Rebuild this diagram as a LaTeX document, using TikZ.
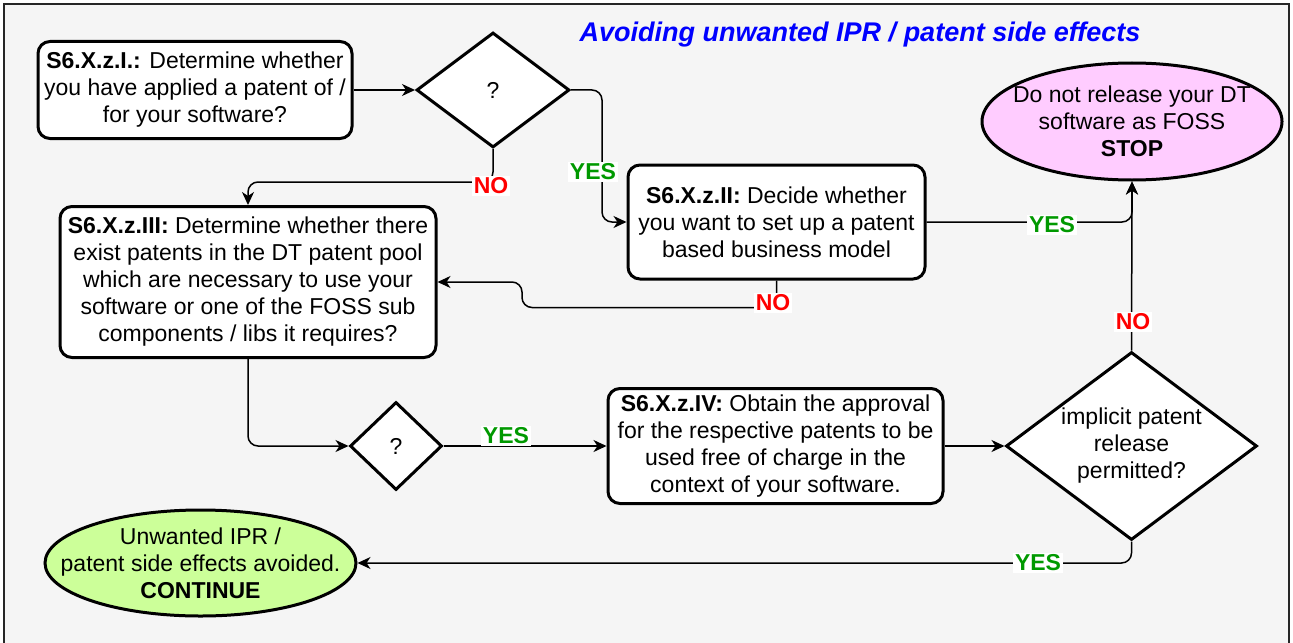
\documentclass[tikz,border=0pt]{standalone}
\usepackage{fontspec}
\setmainfont{Liberation Sans}
\usetikzlibrary{shapes.geometric,arrows.meta}

\definecolor{bgcol}{HTML}{F5F5F5}
\definecolor{stoppink}{HTML}{FFCCFF}
\definecolor{gogreen}{HTML}{CCFF99}
\definecolor{yescol}{HTML}{009900}
\definecolor{titleblue}{HTML}{0000FF}

\tikzset{
  stepbox/.style={draw, line width=1.5pt, rounded corners=6pt, fill=white, align=center, inner sep=0pt},
  decision/.style={diamond, draw, line width=1.5pt, fill=white, align=center, inner sep=-20pt},
  terminal/.style={ellipse, draw, line width=1.5pt, align=center, inner xsep=-25pt, inner ysep=-6pt},
  flow/.style={line width=0.75pt, rounded corners=5pt, -{Stealth[length=6.5pt,width=6pt,inset=2pt]}},
  yeslbl/.style={fill=white, text=yescol, font=\fontsize{11.5}{13.5}\selectfont\bfseries, inner sep=1pt},
  nolbl/.style={fill=white, text=red, font=\fontsize{11.5}{13.5}\selectfont\bfseries, inner sep=1pt}
}

\begin{document}
\begin{tikzpicture}[x=0.5pt, y=-0.5pt, font=\fontsize{11.5}{13.5}\selectfont]

  % Frame
  \useasboundingbox (0,0) rectangle (1293,642);
  \draw[fill=bgcol, draw=black!85, line width=0.6pt] (4,4) rectangle (1289,648);
  \node[text=titleblue, font=\fontsize{13.5}{15}\selectfont\bfseries\itshape] (title) at (860,35) {Avoiding unwanted IPR / patent side effects};

  % Nodes
  \node[stepbox, minimum width=157pt, minimum height=48.5pt] (s1) at (195,90)
    {\textbf{S6.X.z.I.:} Determine whether\\you have applied a patent of /\\for your software?};
  \node[decision, minimum width=76.5pt, minimum height=57.5pt] (d1) at (493,90) {?};
  \node[stepbox, minimum width=148.5pt, minimum height=57pt] (s2) at (776.5,222)
    {\textbf{S6.X.z.II:} Decide whether\\you want to set up a patent\\based business model};
  \node[terminal, fill=stoppink, minimum width=150pt, minimum height=58.5pt] (stop) at (1132,121.5)
    {Do not release your DT\\software as FOSS\\\textbf{STOP}};
  \node[stepbox, minimum width=188pt, minimum height=75.5pt] (s3) at (248,282)
    {\textbf{S6.X.z.III:} Determine whether there\\exist patents in the DT patent pool\\which are necessary to use your\\software or one of the FOSS sub\\components / libs it requires?};
  \node[decision, minimum width=46pt, minimum height=44pt] (d2) at (396,446) {?};
  \node[stepbox, minimum width=167.5pt, minimum height=57.5pt] (s4) at (775.5,446)
    {\textbf{S6.X.z.IV:} Obtain the approval\\for the respective patents to be\\used free of charge in the\\context of your software.};
  \node[decision, minimum width=125.5pt, minimum height=94pt] (d3) at (1131.5,446)
    {implicit patent\\release\\permitted?};
  \node[terminal, fill=gogreen, minimum width=155.5pt, minimum height=53pt] (go) at (200.5,563)
    {Unwanted IPR /\\patent side effects avoided.\\\textbf{CONTINUE}};
  \coordinate (back) at (522,282);

  % Connectors
  \draw[flow] (s1.east) -- (d1.west);
  \draw[flow] (d1.east) -- ++(31,0) |- (s2.west);
  \draw[flow] (d1.south) -- ++(0,33) -| (s3.north);
  \draw[flow] (s2.south) -- ++(0,27) -| (back) -- (s3.east);
  \draw[flow] (s2.east) -| (stop.south);
  \draw[flow] (s3.south) |- (d2.west);
  \draw[flow] (d2.east) -- (s4.west);
  \draw[flow] (s4.east) -- (d3.west);
  \draw[flow] (d3.north) -- (stop.south);
  \draw[flow] (d3.south) |- (go.east);

  % Labels
  \node[yeslbl] (yes1) at (593,172) {YES};
  \node[nolbl] (no1) at (491,186) {NO};
  \node[nolbl] (no2) at (773,303) {NO};
  \node[yeslbl] (yes2) at (1052,225) {YES};
  \node[yeslbl] (yes3) at (506,436) {YES};
  \node[nolbl] (no3) at (1133,322) {NO};
  \node[yeslbl] (yes4) at (1038,563) {YES};
\end{tikzpicture}
\end{document}
